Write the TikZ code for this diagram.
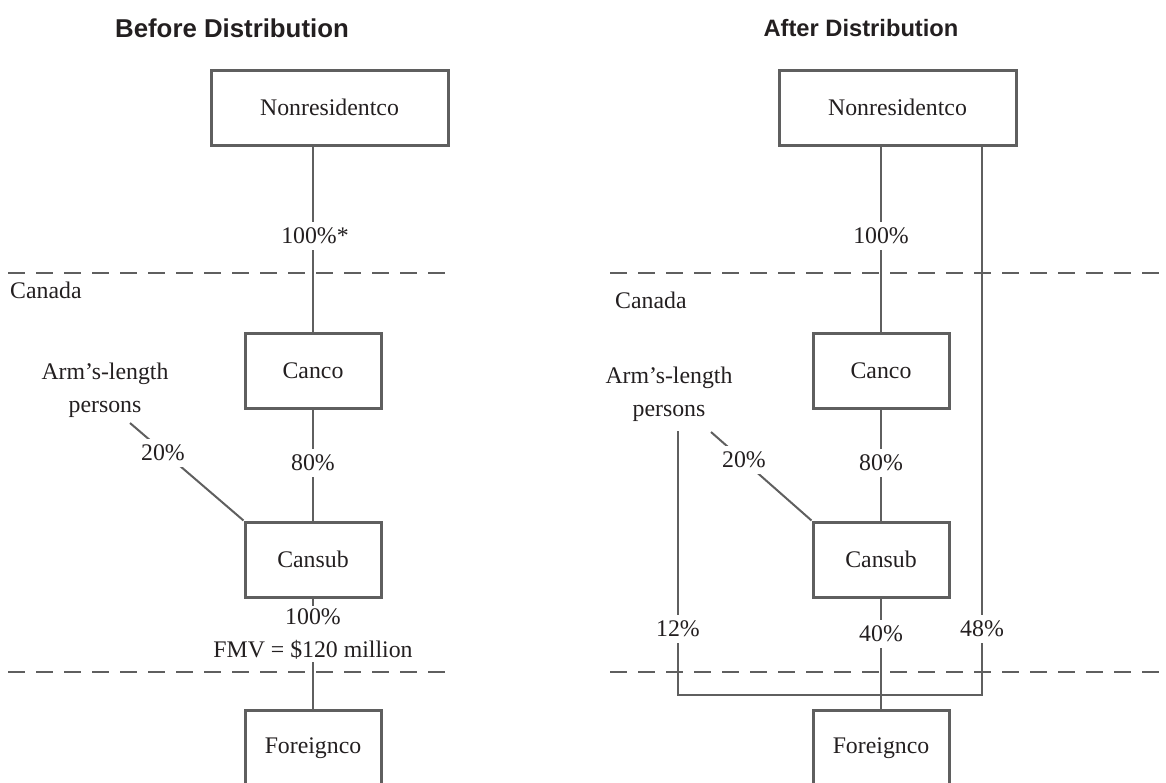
\documentclass[tikz,border=0pt]{standalone}
\usepackage{fontspec}
\setmainfont{Liberation Serif}
\newfontfamily\titlefont{Liberation Sans}
\definecolor{ln}{RGB}{95,95,95}
\definecolor{tx}{RGB}{35,31,32}
\begin{document}
\begin{tikzpicture}[x=1pt,y=-1pt,
  every node/.style={text=tx},
  body/.style={font=\fontsize{23.8}{33}\selectfont},
  ent/.style={draw=ln,line width=3pt,minimum height=75pt,inner sep=0pt,body},
  small/.style={ent,minimum width=136pt},
  wide/.style={ent,minimum width=237pt},
  pct/.style={body,fill=white,inner xsep=2pt,inner ysep=6pt,align=center},
  plain/.style={body,inner sep=0pt,align=center},
  link/.style={draw=ln,line width=2pt},
  border/.style={draw=ln,line width=2.2pt,dash pattern=on 17pt off 11pt},
  ttl/.style={font=\fontsize{#1}{#1}\selectfont\titlefont\bfseries,text=tx,inner sep=0pt}
]
\useasboundingbox (0,0) rectangle (1166,782);
\clip (0,0) rectangle (1166,782);

% ---------- Before Distribution ----------
\node[ttl=25.8] (t1) at (232,28) {Before Distribution};
\draw[border] (8,273) -- (448,273);
\draw[border] (8,672) -- (448,672);
\node[plain,anchor=west] (cda1) at (10,290) {Canada};

\node[wide] (n1) at (329.5,107.5) {Nonresidentco};
\node[small] (c1) at (313,370.5) {Canco};
\node[small] (s1) at (313,559.5) {Cansub};
\node[small] (f1) at (313,748) {Foreignco};
\node[plain] (a1) at (105,390) {Arm’s-length\\persons};
\coordinate (a1e) at (130,423);

\draw[link] (n1.south -| c1.north) -- (c1.north);
\draw[link] (c1) -- (s1);
\draw[link] (a1e) -- (s1.north west);
\draw[link] (s1) -- (f1);
\node[pct] (p1) at (315,236) {100\%*};
\node[pct] (p2) at (313,463) {80\%};
\node[pct] (p3) at (163,453) {20\%};
\node[pct,inner ysep=3pt] (p4) at (313,634) {100\%\\FMV = \$120 million};

% ---------- After Distribution ----------
\node[ttl=23.7] (t2) at (861,28) {After Distribution};
\draw[border] (610,273) -- (1166,273);
\draw[border] (610,672) -- (1166,672);
\node[plain,anchor=west] (cda2) at (615,300) {Canada};

\node[wide] (n2) at (897.5,107.5) {Nonresidentco};
\node[small] (c2) at (881,370.5) {Canco};
\node[small] (s2) at (881,559.5) {Cansub};
\node[small] (f2) at (881,748) {Foreignco};
\node[plain] (a2) at (669,394) {Arm’s-length\\persons};
\coordinate (a2e) at (711,432);
\coordinate (a2d) at (678,431);
\coordinate (r2) at (982,145);
\coordinate (j1) at (678,695);
\coordinate (j2) at (982,695);

\draw[link] (n2.south -| c2.north) -- (c2.north);
\draw[link] (c2) -- (s2);
\draw[link] (a2e) -- (s2.north west);
\draw[link] (s2) -- (f2);
\draw[link] (a2d) -- (j1) -- (j2) -- (r2);
\node[pct] (q1) at (881,236) {100\%};
\node[pct] (q2) at (881,463) {80\%};
\node[pct] (q3) at (744,460) {20\%};
\node[pct] (q4) at (881,634) {40\%};
\node[pct] (q5) at (678,629) {12\%};
\node[pct] (q6) at (982,629) {48\%};
\end{tikzpicture}
\end{document}
